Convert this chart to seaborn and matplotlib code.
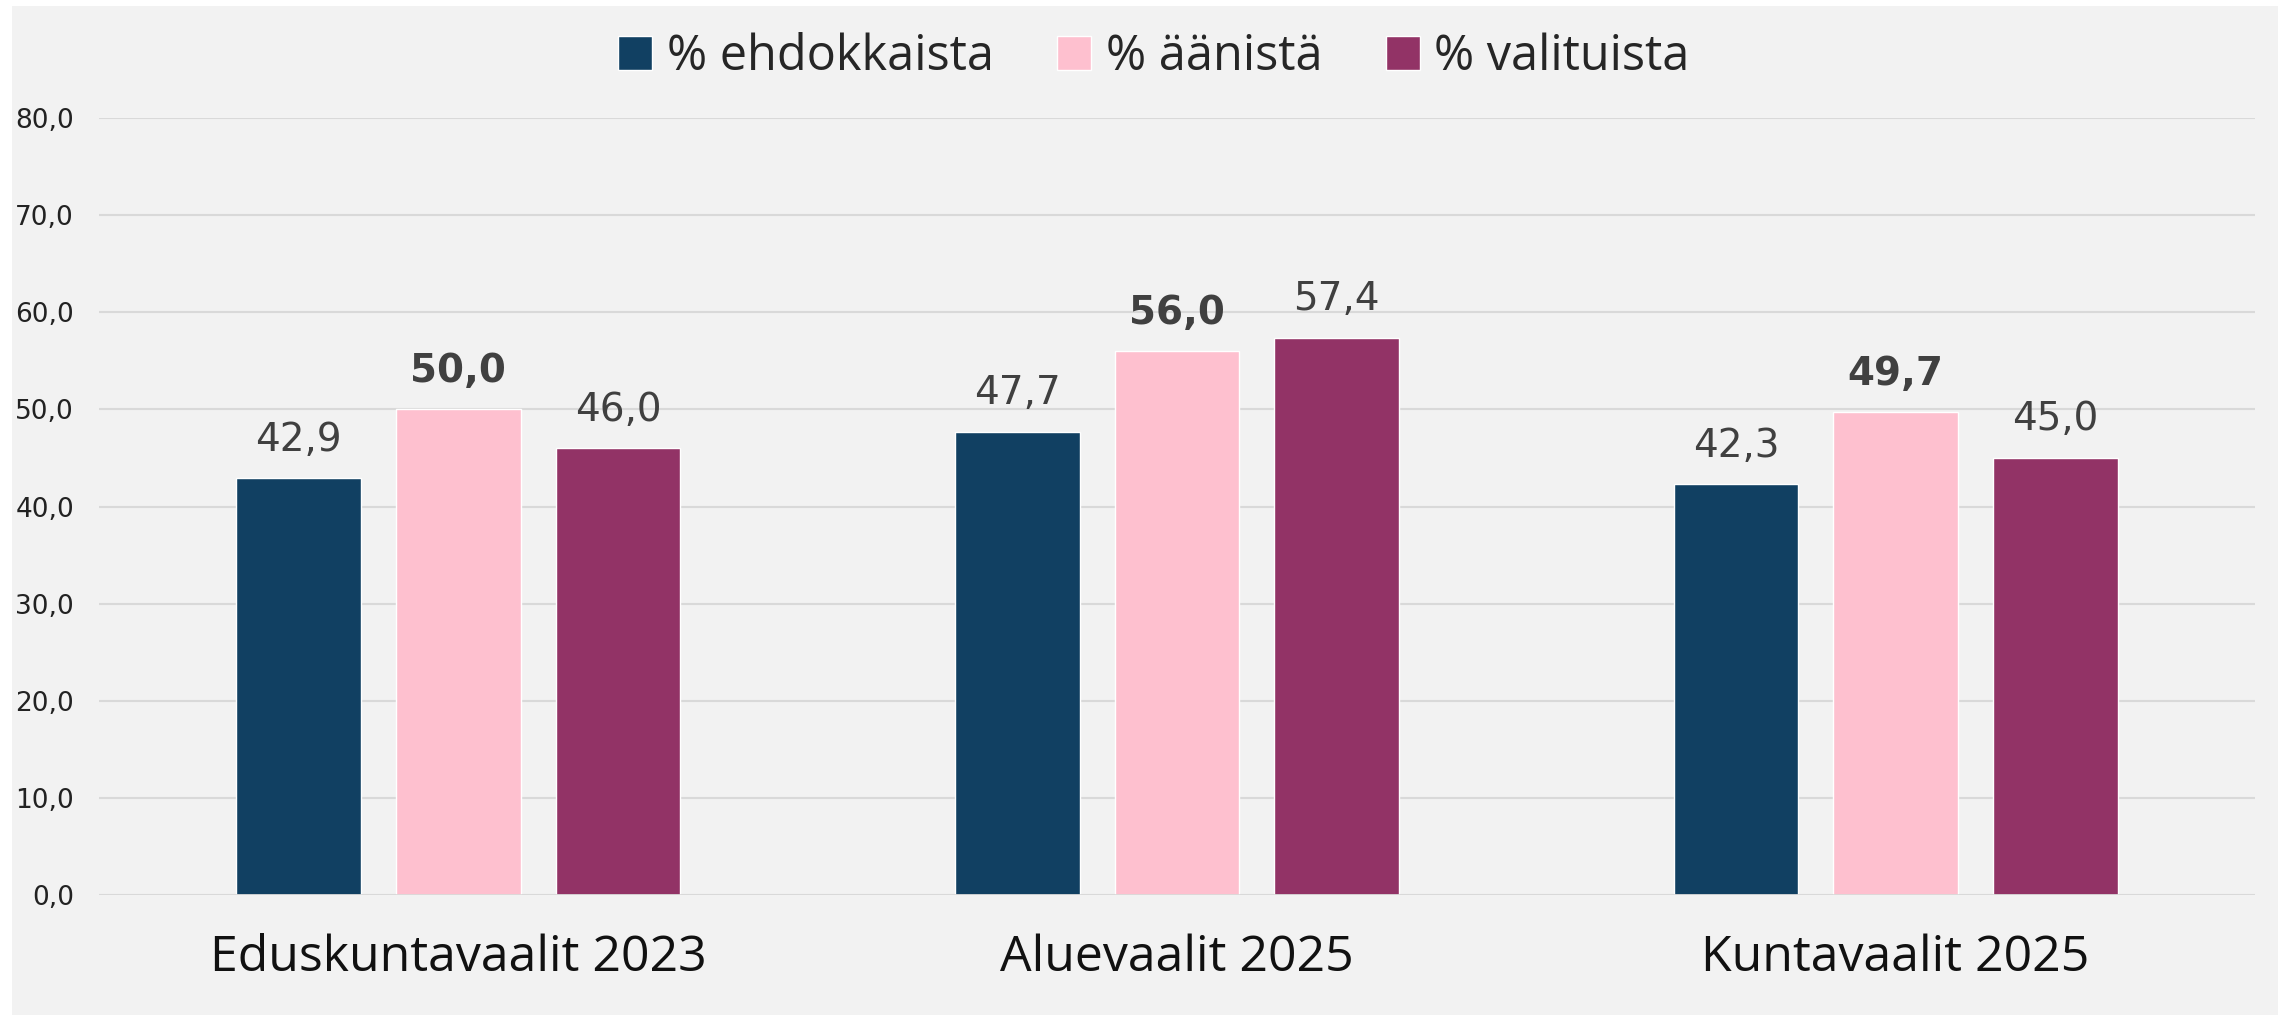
import pandas as pd
import matplotlib.pyplot as plt
import matplotlib.patches as mpatches
from matplotlib.ticker import FuncFormatter
import seaborn as sns

# Data
vaalit = ['Eduskuntavaalit 2023', 'Aluevaalit 2025', 'Kuntavaalit 2025']
sarjat = ['% ehdokkaista', '% äänistä', '% valituista']
ehdokkaista = [42.9, 47.7, 42.3]
aanista = [50.0, 56.0, 49.7]
valituista = [46.0, 57.4, 45.0]
varit = ['#114062', '#FEC0CF', '#923366']

df = pd.DataFrame({
    'vaali': vaalit * 3,
    'sarja': [s for s in sarjat for _ in vaalit],
    'arvo': ehdokkaista + aanista + valituista,
})

sns.set_style('white')
plt.rcParams['font.family'] = ['Open Sans', 'DejaVu Sans']

fig = plt.figure(figsize=(22.78, 10.15), dpi=100, facecolor='white')
# grey panel with a thin white border top/left
fig.patches.append(mpatches.Rectangle((12 / 2278, 0), 1, 1 - 6 / 1015,
                                      transform=fig.transFigure,
                                      facecolor='#F2F2F2', edgecolor='none', zorder=-10))
ax = fig.add_axes([99 / 2278, 1 - 895 / 1015, (2255 - 99) / 2278, (895 - 118) / 1015])
ax.set_facecolor('#F2F2F2')

sns.barplot(data=df, x='vaali', y='arvo', hue='sarja', hue_order=sarjat,
            palette=varit, width=0.667, gap=0.22, saturation=1, ax=ax, zorder=3)

ax.set_ylim(0, 80)
ax.set_xlim(-0.5, 2.5)
ax.set_yticks(range(0, 81, 10))
ax.yaxis.set_major_formatter(FuncFormatter(lambda v, p: f'{v:.1f}'.replace('.', ',')))
ax.grid(axis='y', color='#D9D9D9', linewidth=1.5, zorder=0)
for s in ax.spines.values():
    s.set_visible(False)
ax.axhline(0, color='#D9D9D9', linewidth=2, zorder=4)
ax.tick_params(axis='y', length=0, pad=18, labelsize=19, labelcolor='#222222')
ax.tick_params(axis='x', length=0, pad=28, labelsize=36, labelcolor='#111111')
for t in ax.get_yticklabels():
    t.set_family('DejaVu Sans')
ax.set_xlabel('')
ax.set_ylabel('')

for i, cont in enumerate(ax.containers):
    labels = [f'{b.get_height():.1f}'.replace('.', ',') for b in cont]
    ax.bar_label(cont, labels=labels, padding=14, fontsize=28, color='#404040',
                 family='DejaVu Sans', fontweight='bold' if i == 1 else 'normal')

handles, labels = ax.get_legend_handles_labels()
ax.get_legend().remove()
fig.legend(handles, labels, loc='center', bbox_to_anchor=(1154 / 2278, 1 - 57 / 1015),
           ncol=3, frameon=False, fontsize=35, handlelength=0.7, handleheight=0.7,
           handletextpad=0.3, columnspacing=1.3)

fig.savefig('out.png', dpi=100, facecolor=fig.get_facecolor())
